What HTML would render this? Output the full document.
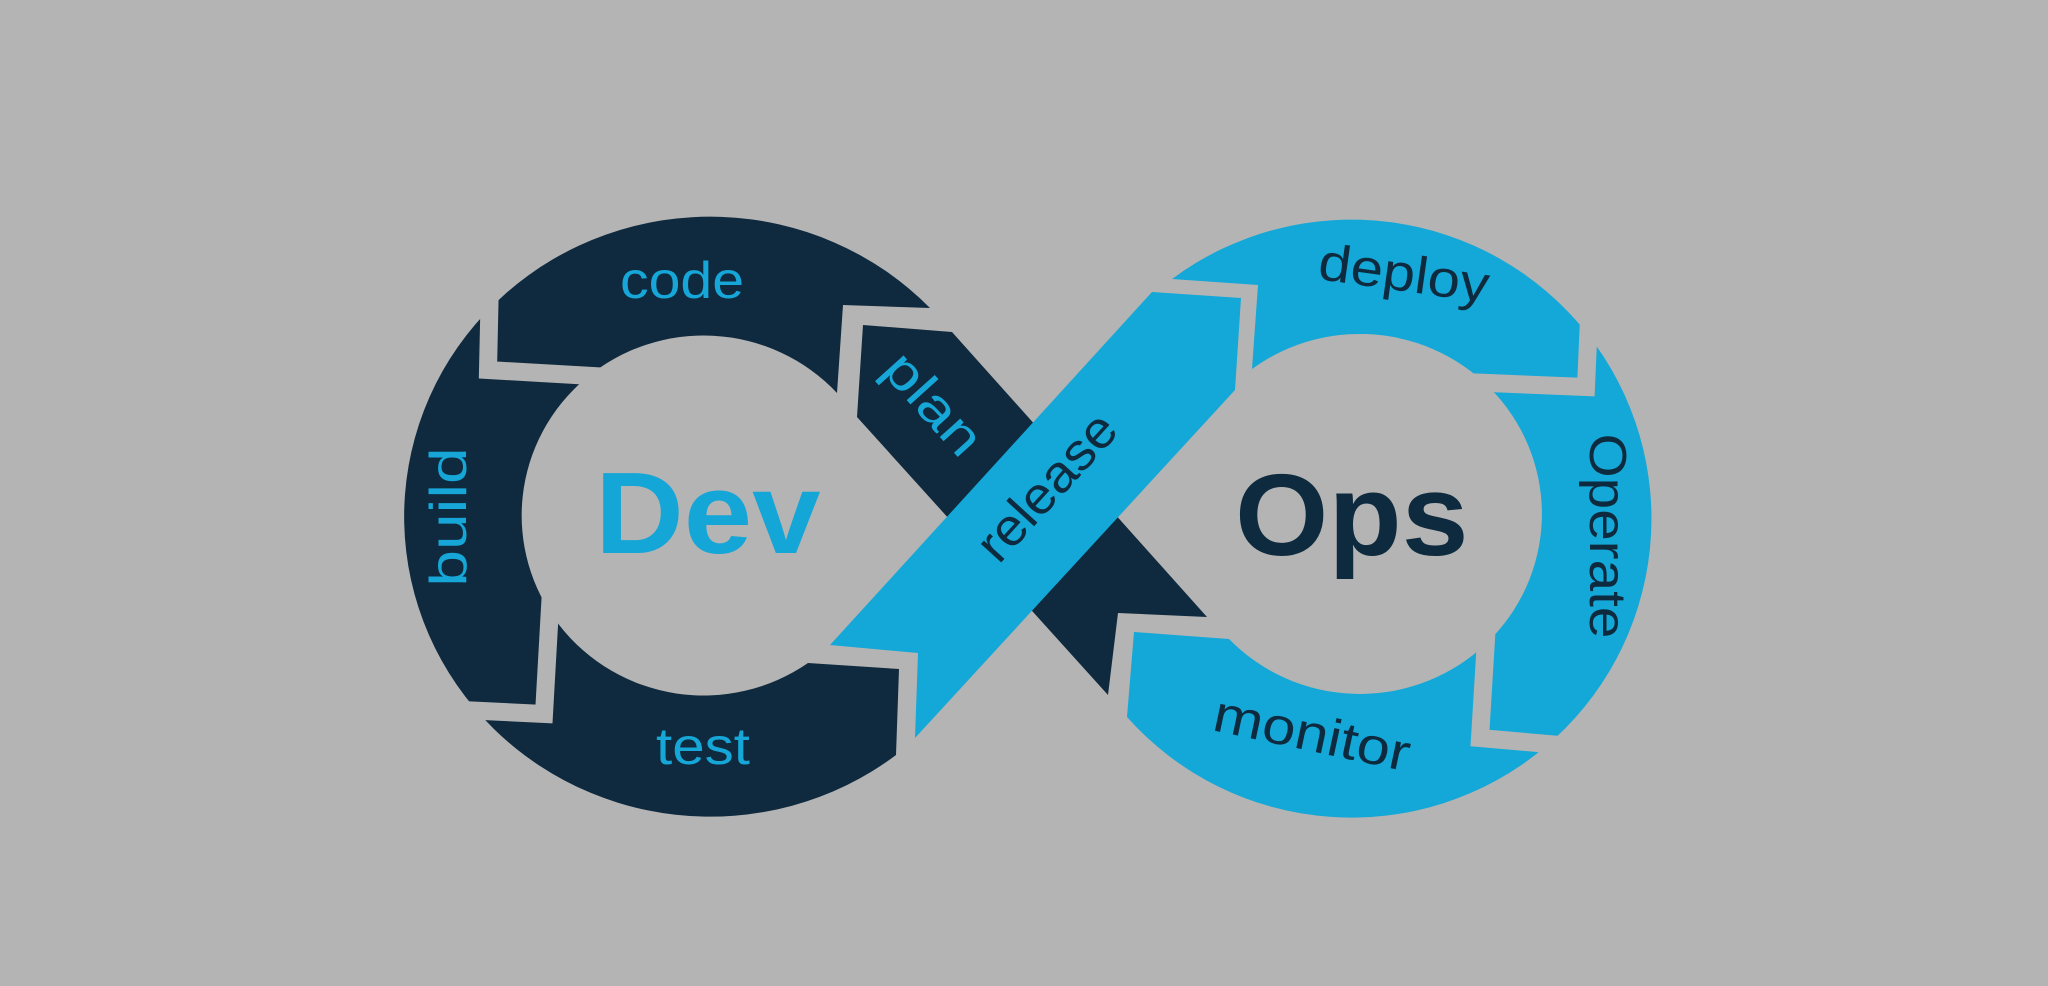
<!DOCTYPE html>
<html><head><meta charset="utf-8"><style>
html,body{margin:0;padding:0;background:#b4b4b4;}
body{position:relative;width:2048px;height:986px;overflow:hidden;}
svg{display:block;position:absolute;left:0;top:0}
text{font-family:"Liberation Sans",sans-serif;}
.l{position:absolute;font-family:"Liberation Sans",sans-serif;font-size:52px;line-height:52px;white-space:nowrap;width:0;height:0;}
.l span{position:absolute;left:0;top:0;display:block;}
.b{color:#16a7d8}.d{color:#0e2a3e}
</style></head><body>
<svg width="2048" height="986" viewBox="0 0 2048 986" xmlns="http://www.w3.org/2000/svg">
<rect width="2048" height="986" fill="#b4b4b4"/>
<path d="M930,308 A306,300 0 1 0 896,755 L899,669 L808,663 A182,180 0 1 1 837,393 L843,305 Z" fill="#0f2a3e"/>
<path d="M863,325 L952,332 L1207,617 L1118,613 L1108,695 L857,417 Z" fill="#0f2a3e"/>
<path d="M1152,292 L1241,298 L1235,390 L915,738 L918,653 L830,645 Z" fill="#13a8d7"/>
<path d="M1172,279 A300,299 0 1 1 1127,717 L1134,632 L1229,639 A182,180 0 1 0 1252,369 L1258,285 Z" fill="#13a8d7"/>
<g fill="none" stroke="#b4b4b4" stroke-width="18" stroke-linejoin="miter">
<polyline points="492,190 488,370 610,377"/>
<polyline points="400,707 544,714 551,590"/>
<polyline points="1592,250 1586,387 1440,381"/>
<polyline points="1489,590 1480,738 1640,752"/>
</g>
<text transform="translate(595,553) scale(1.06,1)" font-size="116" font-weight="bold" fill="#14a6d7">Dev</text>
<text transform="translate(1235,555) scale(1.035,1)" font-size="116" font-weight="bold" fill="#0e2a3e">Ops</text>
</svg>
<div class="l b" style="left:682px;top:281px"><span style="transform:translate(-50%,-50%) scaleX(1.1)">code</span></div>
<div class="l b" style="left:449px;top:517px"><span style="transform:translate(-50%,-50%) rotate(-90deg) scaleX(1.27)">build</span></div>
<div class="l b" style="left:703px;top:747px"><span style="transform:translate(-50%,-50%) scaleX(1.12)">test</span></div>
<div class="l b" style="left:933px;top:404px"><span style="transform:translate(-50%,-50%) rotate(48deg) scaleX(1.22)">plan</span></div>
<div class="l d" style="left:1047px;top:487px"><span style="transform:translate(-50%,-50%) rotate(-47.6deg) scaleX(1.06)">release</span></div>
<div class="l d" style="left:1404px;top:274px"><span style="transform:translate(-50%,-50%) rotate(8deg) scaleX(1.12)">deploy</span></div>
<div class="l d" style="left:1607px;top:536px"><span style="transform:translate(-50%,-50%) rotate(90deg) scaleX(1.09)">Operate</span></div>
<div class="l d" style="left:1312px;top:734px"><span style="transform:translate(-50%,-50%) rotate(12deg) scaleX(1.15)">monitor</span></div>
</body></html>
